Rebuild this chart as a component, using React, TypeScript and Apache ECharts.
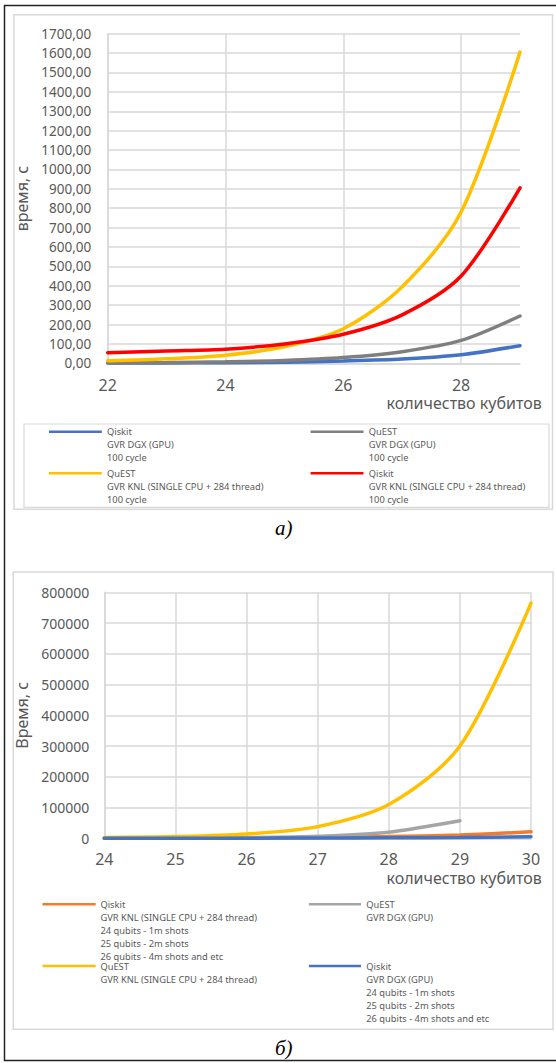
import React, { useEffect, useRef } from "react";
import * as echarts from "echarts";

// ---------- Chart a) data ----------
const qubitsA = [22, 23, 24, 25, 26, 27, 28, 29];
const qiskitDgxA = [1, 2, 3, 6, 12, 22, 44, 91];
const questDgxA = [2, 4, 8, 15, 30, 60, 118, 244];
const questKnlA = [13, 23, 42, 85, 178, 395, 780, 1605];
const qiskitKnlA = [55, 64, 73, 100, 150, 250, 450, 905];
const xTicksA = { min: 22, max: 29, interval: 2 };
const yTicksA = { min: 0, max: 1700, interval: 100 };

// ---------- Chart б) data ----------
const qubitsB = [24, 25, 26, 27, 28, 29, 30];
const qiskitKnlB = [300, 600, 1300, 2700, 5500, 11000, 21000];
const questDgxB = [400, 900, 2200, 6500, 20000, 57000];
const questKnlB = [2500, 5500, 14000, 38000, 110000, 300000, 765000];
const qiskitDgxB = [100, 200, 400, 800, 1500, 2800, 5000];
const xTicksB = { min: 24, max: 30, interval: 1 };
const yTicksB = { min: 0, max: 800000, interval: 100000 };

// ---------- Legend texts ----------
const namesA = [
  ["Qiskit", "GVR DGX (GPU)", "100 cycle"],
  ["QuEST", "GVR DGX (GPU)", "100 cycle"],
  ["QuEST", "GVR KNL (SINGLE CPU + 284 thread)", "100 cycle"],
  ["Qiskit", "GVR KNL (SINGLE CPU + 284 thread)", "100 cycle"],
];
const namesB = [
  ["Qiskit", "GVR KNL (SINGLE CPU + 284 thread)", "24 qubits - 1m shots", "25 qubits - 2m shots", "26 qubits - 4m shots and etc"],
  ["QuEST", "GVR DGX (GPU)"],
  ["QuEST", "GVR KNL (SINGLE CPU + 284 thread)"],
  ["Qiskit", "GVR DGX (GPU)", "24 qubits - 1m shots", "25 qubits - 2m shots", "26 qubits - 4m shots and etc"],
];
const axisTitleX = "количество кубитов";
const axisTitleYA = "время, с";
const axisTitleYB = "Время, с";
const captionA = "а)";
const captionB = "б)";

const colorsA = ["#4472C4", "#7F7F7F", "#FFC000", "#FF0000"];
const colorsB = ["#ED7D31", "#A5A5A5", "#FFC000", "#4472C4"];

const FONT = "Noto Sans";
const TXT = "#595959";
const GRID = "#D9D9D9";

function pairs(xs: number[], ys: number[]) {
  return ys.map((y, i) => [xs[i], y]);
}

function legendItem(
  lines: string[],
  color: string,
  x1: number,
  x2: number,
  tx: number,
  yc: number
) {
  return [
    {
      type: "line",
      shape: { x1, y1: yc, x2, y2: yc },
      style: { stroke: color, lineWidth: 2.5 },
    },
    {
      type: "text",
      x: tx,
      y: yc - 6.5,
      style: {
        text: lines.join("\n"),
        fill: TXT,
        font: `9.3px "${FONT}"`,
        lineHeight: 13.1,
        verticalAlign: "top",
        align: "left",
      },
    },
  ];
}

export default function App() {
  const ref = useRef<HTMLDivElement>(null);

  useEffect(() => {
    const chart = echarts.init(ref.current!, null, { renderer: "svg" });

    const lineSeries = (
      name: string,
      xs: number[],
      ys: number[],
      color: string,
      idx: number
    ) => ({
      type: "line",
      name,
      xAxisIndex: idx,
      yAxisIndex: idx,
      data: pairs(xs, ys),
      smooth: 0.3,
      showSymbol: false,
      symbol: "none",
      lineStyle: { color, width: 3.5, cap: "round" },
      itemStyle: { color },
    });

    const seriesA = [qiskitDgxA, questDgxA, questKnlA, qiskitKnlA].map((d, i) =>
      lineSeries(namesA[i].join("\n"), qubitsA, d, colorsA[i], 0)
    );
    const seriesB = [qiskitKnlB, questDgxB, questKnlB, qiskitDgxB].map((d, i) =>
      lineSeries(namesB[i].join("\n") + " ", qubitsB.slice(0, d.length), d, colorsB[i], 1)
    );

    const graphics: any[] = [
      {
        type: "rect",
        shape: { x: 4.5, y: 5.5, width: 553, height: 1055 },
        style: { fill: "none", stroke: "#222", lineWidth: 1.5 },
        z: 0,
      },
      {
        type: "rect",
        shape: { x: 14, y: 14.7, width: 538.5, height: 494.6 },
        style: { fill: "none", stroke: GRID, lineWidth: 1.5 },
      },
      {
        type: "rect",
        shape: { x: 24, y: 424, width: 525, height: 83.3 },
        style: { fill: "none", stroke: GRID, lineWidth: 1.2 },
      },
      {
        type: "rect",
        shape: { x: 13.3, y: 572, width: 539.7, height: 457.3 },
        style: { fill: "none", stroke: GRID, lineWidth: 1.5 },
      },
      {
        type: "text",
        x: 541.7,
        y: 403,
        style: {
          text: axisTitleX,
          fill: TXT,
          font: `16px "${FONT}"`,
          align: "right",
          verticalAlign: "middle",
        },
      },
      {
        type: "text",
        x: 541.7,
        y: 877.5,
        style: {
          text: axisTitleX,
          fill: TXT,
          font: `16px "${FONT}"`,
          align: "right",
          verticalAlign: "middle",
        },
      },
      {
        type: "text",
        x: 283.7,
        y: 528.3,
        style: {
          text: captionA,
          fill: "#000",
          font: `italic 21px "Liberation Serif"`,
          align: "center",
          verticalAlign: "middle",
        },
      },
      {
        type: "text",
        x: 283.7,
        y: 1048,
        style: {
          text: captionB,
          fill: "#000",
          font: `italic 21px "Liberation Serif"`,
          align: "center",
          verticalAlign: "middle",
        },
      },
      ...legendItem(namesA[0], colorsA[0], 49, 101.8, 107, 431.7),
      ...legendItem(namesA[1], colorsA[1], 310.6, 363.5, 368.8, 431.7),
      ...legendItem(namesA[2], colorsA[2], 49, 101.8, 107, 473.3),
      ...legendItem(namesA[3], colorsA[3], 310.6, 363.5, 368.8, 473.3),
      ...legendItem(namesB[0], colorsB[0], 42.5, 95.7, 100.4, 904.3),
      ...legendItem(namesB[1], colorsB[1], 308.9, 361, 366.3, 904.3),
      ...legendItem(namesB[2], colorsB[2], 42.5, 95.7, 100.4, 966),
      ...legendItem(namesB[3], colorsB[3], 308.9, 361, 366.3, 966),
    ];

    const option: any = {
      animation: false,
      backgroundColor: "#fff",
      textStyle: { fontFamily: FONT },
      grid: [
        { left: 107.7, top: 33.7, width: 412.3, height: 329.6, containLabel: false },
        { left: 104.3, top: 592.3, width: 426.7, height: 246, containLabel: false },
      ],
      xAxis: [
        {
          type: "value",
          gridIndex: 0,
          min: xTicksA.min,
          max: xTicksA.max,
          interval: xTicksA.interval,
          axisLine: { show: true, lineStyle: { color: GRID, width: 1.5 } },
          axisTick: { show: false },
          axisLabel: { color: TXT, fontSize: 16, fontFamily: FONT, margin: 14, showMaxLabel: false },
          splitLine: { show: true, showMaxLine: false, lineStyle: { color: GRID, width: 1.5 } },
        },
        {
          type: "value",
          gridIndex: 1,
          min: xTicksB.min,
          max: xTicksB.max,
          interval: xTicksB.interval,
          axisLine: { show: true, lineStyle: { color: GRID, width: 1.5 } },
          axisTick: { show: false },
          axisLabel: { color: TXT, fontSize: 16, fontFamily: FONT, margin: 13 },
          splitLine: { show: true, lineStyle: { color: GRID, width: 1.5 } },
        },
      ],
      yAxis: [
        {
          type: "value",
          gridIndex: 0,
          min: yTicksA.min,
          max: yTicksA.max,
          interval: yTicksA.interval,
          name: axisTitleYA,
          nameLocation: "middle",
          nameGap: 77,
          nameRotate: 90,
          nameTextStyle: { color: TXT, fontSize: 16, fontFamily: FONT },
          axisLine: { show: true, lineStyle: { color: GRID, width: 1.5 } },
          axisTick: { show: false },
          axisLabel: {
            color: TXT,
            fontSize: 13.5,
            fontFamily: FONT,
            margin: 16.5,
            formatter: (v: number) => v.toFixed(2).replace(".", ","),
          },
          splitLine: { show: true, lineStyle: { color: GRID, width: 1.5 } },
        },
        {
          type: "value",
          gridIndex: 1,
          min: yTicksB.min,
          max: yTicksB.max,
          interval: yTicksB.interval,
          name: axisTitleYB,
          nameLocation: "middle",
          nameGap: 74,
          nameRotate: 90,
          nameTextStyle: { color: TXT, fontSize: 16, fontFamily: FONT },
          axisLine: { show: true, lineStyle: { color: GRID, width: 1.5 } },
          axisTick: { show: false },
          axisLabel: {
            color: TXT,
            fontSize: 14,
            fontFamily: FONT,
            margin: 15,
            formatter: (v: number) => String(v),
          },
          splitLine: { show: true, lineStyle: { color: GRID, width: 1.5 } },
        },
      ],
      series: [...seriesA, ...seriesB],
      graphic: graphics,
    };

    chart.setOption(option);
    return () => chart.dispose();
  }, []);

  return (
    <div
      ref={ref}
      style={{ position: "fixed", left: 0, top: 0, width: 556, height: 1063, background: "#fff" }}
    />
  );
}
